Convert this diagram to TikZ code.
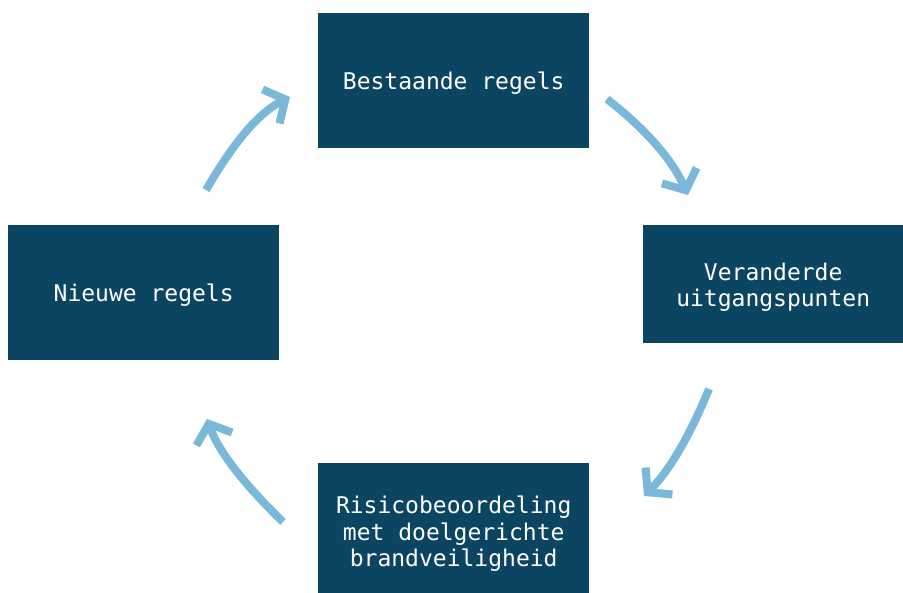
\documentclass[tikz,border=0pt]{standalone}
\usepackage{fontspec}
\setmonofont{DejaVu Sans Mono}
\usetikzlibrary{arrows.meta}
\definecolor{boxblue}{HTML}{0C4562}
\definecolor{arrowblue}{HTML}{7AB8DA}
\newcommand{\boxtext}[2]{\raisebox{#1}[\height][\depth]{\begin{tabular}{@{}c@{}}#2\end{tabular}}}
\begin{document}
\begin{tikzpicture}[x=1pt,y=-1pt,
  box/.style={fill=boxblue,text=white,font=\ttfamily\fontsize{23}{26.5}\selectfont,align=center,inner sep=0pt,anchor=north west},
  cyc/.style={draw=arrowblue,line width=8pt,-{Straight Barb[length=16pt,width=38pt]}}]
\useasboundingbox (0,0) rectangle (903,593);
\node[box,minimum width=271pt,minimum height=135pt] (top) at (318,13) {\boxtext{-4pt}{Bestaande regels}};
\node[box,minimum width=260pt,minimum height=118pt] (right) at (643,225) {\boxtext{-4pt}{Veranderde\\uitgangspunten}};
\node[box,minimum width=271pt,minimum height=135pt] (left) at (8,225) {\boxtext{-4pt}{Nieuwe regels}};
\node[box,minimum width=271pt,minimum height=130pt] (bottom) at (318,463) {\boxtext{-7pt}{Risicobeoordeling\\met doelgerichte\\brandveiligheid}};
\coordinate (a1s) at (206,190); \coordinate (a1e) at (290,97);
\coordinate (a2s) at (607,99); \coordinate (a2e) at (688,195);
\coordinate (a3s) at (709,389); \coordinate (a3e) at (644,496);
\coordinate (a4s) at (283,522); \coordinate (a4e) at (207,419);
\draw[cyc] (a1s) .. controls (235,140) and (260,112) .. (a1e);
\draw[cyc] (a2s) .. controls (640,125) and (670,155) .. (a2e);
\draw[cyc] (a3s) .. controls (690,435) and (670,470) .. (a3e);
\draw[cyc] (a4s) .. controls (250,490) and (220,455) .. (a4e);
\end{tikzpicture}
\end{document}
